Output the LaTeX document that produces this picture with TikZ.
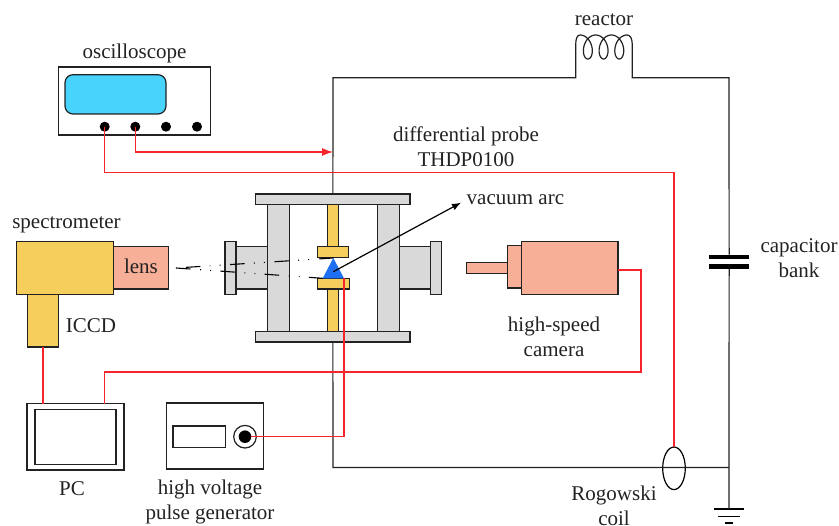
\documentclass[tikz,border=0pt]{standalone}
\usepackage{fontspec}
\setmainfont{Liberation Serif}
\usetikzlibrary{arrows.meta,shapes.geometric}
\definecolor{wirered}{HTML}{F5252B}
\definecolor{plategray}{HTML}{D9D9D9}
\definecolor{gold}{HTML}{F6CE5B}
\definecolor{salmon}{HTML}{F7AF97}
\definecolor{scr}{HTML}{47D3FC}
\definecolor{arcblue}{HTML}{1F6FF2}
\definecolor{ink}{HTML}{222222}
\newcommand{\bx}[6]{%
  \pgfmathsetmacro\cxx{(#3+#5)/2}\pgfmathsetmacro\cyy{(#4+#6)/2}%
  \pgfmathsetmacro\wdd{#5-#3}\pgfmathsetmacro\htt{#6-#4}%
  \node[#2,minimum width=\wdd pt,minimum height=\htt pt] (#1) at (\cxx,\cyy) {};}
\newcommand{\twolines}[2]{\strut #1\\\strut #2}
\tikzset{
  part/.style={draw=ink,line width=1.3pt,inner sep=0pt,outer sep=0pt,rectangle},
  gray part/.style={part,fill=plategray},
  gold part/.style={part,fill=gold},
  salmon part/.style={part,fill=salmon},
  plain part/.style={part,fill=white},
  wire/.style={draw=ink,line width=1.2pt},
  redwire/.style={draw=wirered,line width=1.2pt},
  beam/.style={draw=black,line width=1.1pt,dash pattern=on 14.5pt off 9.7pt on .9pt off 9.2pt on .9pt off 9.2pt},
  lab/.style={font=\fontsize{21}{25}\selectfont,inner sep=0pt,outer sep=0pt,text=ink,align=center},
  lab1/.style={lab,anchor=base},
  knob/.style={circle,fill=black,inner sep=0pt,minimum size=10pt},
  capplate/.style={fill=black,inner sep=0pt,outer sep=0pt,rectangle},
}
\begin{document}
\begin{tikzpicture}[x=1pt,y=-1pt]
\useasboundingbox (0,0) rectangle (839,526);
% junction coordinates
\coordinate (tl) at (333,77.7);
\coordinate (cl) at (575.7,77.7);
\coordinate (cr) at (632.3,77.7);
\coordinate (tr) at (729,77.7);
\coordinate (bl) at (333,467.5);
\coordinate (br) at (729,467.5);
\coordinate (gnd) at (729,509);
\coordinate (probe) at (333,152);
\coordinate (camturn) at (641,270);
% chamber
\bx{lcol}{gray part}{267.3}{204.7}{289.3}{331.3}
\bx{rcol}{gray part}{377.3}{204.7}{399.3}{331.3}
\bx{ltube}{gray part}{236}{246.7}{267.3}{289}
\bx{lfl}{gray part}{225}{241.3}{236}{294.3}
\bx{rtube}{gray part}{399.3}{246.7}{430.7}{289}
\bx{rfl}{gray part}{430.7}{241.3}{441.7}{294.3}
\bx{topplate}{gray part}{255.7}{194}{410}{204.7}
\bx{botplate}{gray part}{255.7}{331.3}{410}{342}
\bx{urod}{gold part}{327.3}{204.7}{338.3}{246.7}
\bx{udisk}{gold part}{317.3}{246.7}{348.7}{257.3}
\bx{lrod}{gold part}{327.3}{289}{338.3}{331.3}
\bx{ldisk}{gold part}{317.7}{278.3}{349.3}{289}
\fill[arcblue] (333.3,258) -- (322.7,278.3) -- (344,278.3) -- cycle;
\coordinate (arcc) at (333.3,271.7);
\coordinate (apex) at (333.3,258);
\coordinate (baseL) at (322.7,278.3);
\coordinate (discc) at (344,278.3);
% spectrometer
\bx{lensb}{salmon part}{113.3}{246.7}{168.3}{289}
\bx{spec}{gold part}{16.7}{241.7}{113.3}{294.3}
\bx{iccd}{gold part}{27.3}{294.3}{58.7}{347}
\coordinate (beamstart) at (176,268);
% pc
\bx{pc}{plain part}{27}{403.7}{124}{470}
\bx{pcs}{plain part}{35}{409.3}{116}{464.3}
% generator
\bx{gen}{plain part}{166.3}{403}{263.3}{469}
\bx{gend}{plain part}{173}{426}{225.3}{447.3}
\node[circle,draw=ink,line width=1.2pt,fill=white,minimum size=22.6pt,inner sep=0pt] (genr) at (245,436.7) {};
\node[circle,fill=black,minimum size=12.6pt,inner sep=0pt,outer sep=0pt] (genk) at (245,436.7) {};
% oscilloscope
\bx{osc}{plain part}{58.3}{67}{210.3}{135}
\node[draw=ink,line width=1.2pt,fill=scr,rounded corners=8pt,minimum width=101pt,minimum height=39.3pt,inner sep=0pt] (scrn) at (115.5,94.35) {};
\node[knob] (k1) at (104.7,126.7) {};
\node[knob] (k2) at (135.3,126.7) {};
\node[knob] (k3) at (166,126.7) {};
\node[knob] (k4) at (197,126.7) {};
% camera
\bx{nozzle}{salmon part}{466.3}{262.7}{507.3}{273.3}
\bx{cammid}{salmon part}{507.3}{245.3}{521.3}{288}
\bx{cam}{salmon part}{521.3}{241.7}{618}{294.3}
% capacitor
\bx{capa}{capplate}{709.3}{254.7}{749}{259.3}
\bx{capb}{capplate}{709.3}{264}{749}{268.7}
% ground bars
\bx{g1}{capplate}{713.7}{508.4}{744.3}{509.6}
\bx{g2}{capplate}{718}{515.7}{740}{516.9}
\bx{g3}{capplate}{725}{522.4}{733.3}{523.6}
% Rogowski
\node[ellipse,draw=black,line width=1.2pt,minimum width=22.6pt,minimum height=42.6pt,inner sep=0pt,outer sep=0pt] (rog) at (674,468.3) {};
% black wires
\draw[wire] (topplate.north) -- (tl) -- (cl) -- (575.7,45)
  .. controls (575.7,39) and (577,35) .. (580,35);
\draw[wire,smooth,domain=0:18.85,samples=150,variable=\t]
  plot ({580+2.5*\t+8*sin(\t r)},{47-12*cos(\t r)});
\draw[wire] (627.1,35) .. controls (630.5,35) and (632.3,39) .. (632.3,45) -- (cr) -- (tr) -- (capa.north);
\draw[wire] (capb.south) -- (br) -- (gnd);
\draw[wire] (botplate.south) -- (bl) -- (br);
% beams
\draw[beam] (apex) -- (beamstart);
\draw[beam] (beamstart) -- (baseL);
% vacuum arc arrow
\draw[draw=black,line width=1.2pt,-{Latex[length=9pt,width=7pt]}] (arcc) -- (461,202.7);
% red wires
\draw[redwire,-{Latex[length=11pt,width=8pt]}] (k2.center) |- (probe);
\draw[redwire] (k1.center) |- (674,172.7) -- (rog.north);
\draw[redwire] (discc) -- (344,436.7) -- (genk.east);
\draw[redwire] (iccd.south -| 43,0) -- (43,403.7);
\draw[redwire] (cam.east |- camturn) -- (camturn) -- (641,372) -- (104.7,372) -- (104.7,403.7);
% labels
\node[lab1] (tReactor) at (604,26) {reactor};
\node[lab1] (tOsc) at (134.5,59) {oscilloscope};
\node[lab] (tProbe) at (466,148.85) {\twolines{differential probe}{THDP0100}};
\node[lab1,anchor=base west] (tArc) at (466.7,204.3) {vacuum arc};
\node[lab1] (tSpec) at (66.5,229) {spectrometer};
\node[lab1] (tLens) at (141,274) {lens};
\node[lab1] (tIccd) at (91,332.3) {ICCD};
\node[lab] (tCam) at (554,338.85) {\twolines{high-speed}{camera}};
\node[lab] (tCap) at (799,260.3) {\twolines{capacitor}{bank}};
\node[lab1] (tPc) at (72,496) {PC};
\node[lab] (tGen) at (210,502) {\twolines{high voltage}{pulse generator}};
\node[lab] (tRog) at (614,504.1) {\strut Rogowski\\coil};
\end{tikzpicture}
\end{document}
